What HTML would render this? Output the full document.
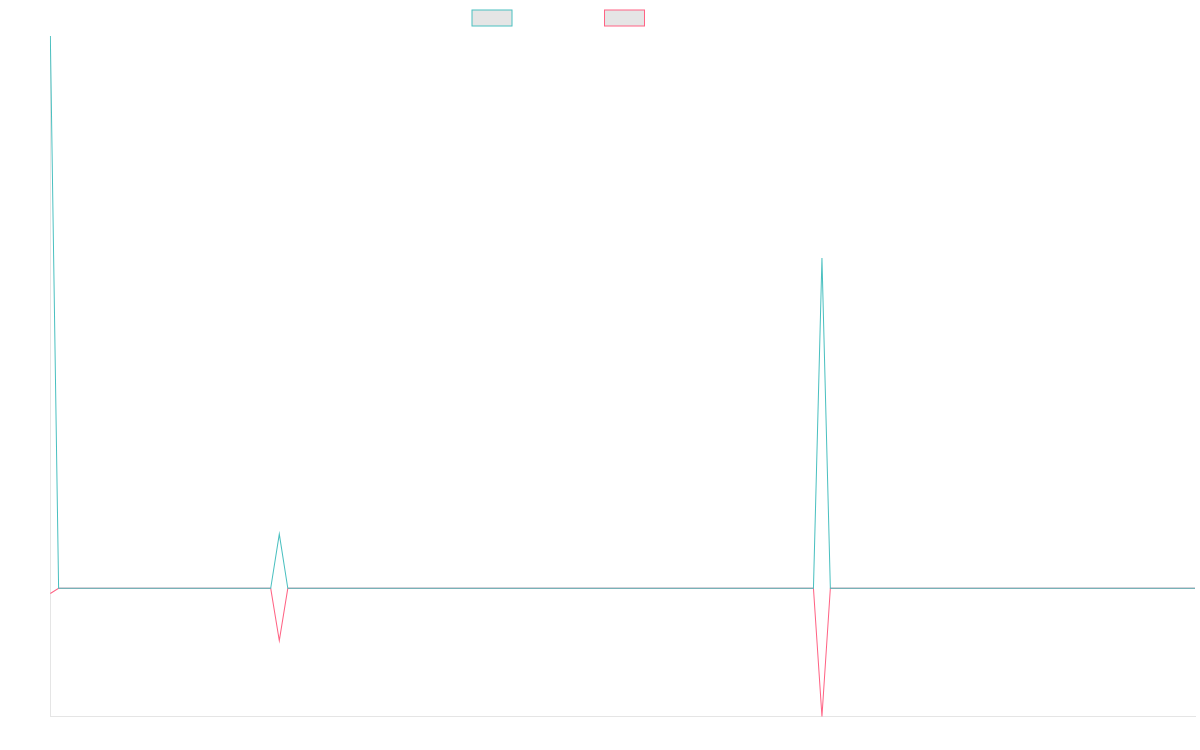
<!DOCTYPE html>
<html lang="en">
<head>
<meta charset="utf-8">
<title>Chart</title>
<style>
html,body{margin:0;padding:0;background:#fff;}
body{width:1200px;height:750px;overflow:hidden;font-family:"Liberation Sans",sans-serif;}
svg{display:block;}
</style>
</head>
<body>
<svg width="1200" height="750" viewBox="0 0 1200 750">
  <rect x="0" y="0" width="1200" height="750" fill="#ffffff"/>
  <!-- legend -->
  <rect x="472" y="10" width="40" height="16" fill="rgba(0,0,0,0.1)" stroke="rgb(75,192,192)" stroke-width="1"/>
  <rect x="604.5" y="10" width="40" height="16" fill="rgba(0,0,0,0.1)" stroke="rgb(255,99,132)" stroke-width="1"/>
  <!-- axis borders -->
  <rect x="50" y="36" width="1" height="680" fill="rgba(0,0,0,0.1)"/>
  <rect x="50" y="716" width="1146" height="1" fill="rgba(0,0,0,0.1)"/>
  <defs>
    <clipPath id="ca"><rect x="49.83" y="35.5" width="1145.7" height="681.5"/></clipPath>
  </defs>
  <g clip-path="url(#ca)" fill="none" stroke-width="1.02" stroke-linejoin="miter" stroke-miterlimit="10" stroke-linecap="butt">
    <polyline stroke="rgb(255,99,132)" points="50.33,593.5 58.6,588.3 270.7,588.3 279.3,640.7 287.8,588.3 813.45,588.3 821.95,716.5 830.35,588.3 1195,588.3"/>
    <polyline stroke="rgb(75,192,192)" points="50.33,36 58.6,588.3 270.7,588.3 279.3,534.1 287.8,588.3 813.45,588.3 821.95,258 830.35,588.3 1195,588.3"/>
  </g>
</svg>
</body>
</html>
